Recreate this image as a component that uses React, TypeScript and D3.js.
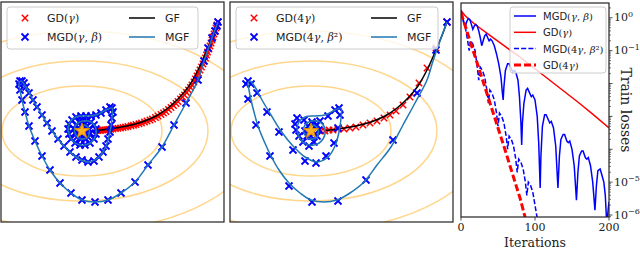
import React from "react";
import * as d3 from "d3";

// ---------- data: optimisation paths (parameter space) ----------
const contourRx = [8.0, 12.6, 17.8];
const contourRy = [4.5, 7.0, 10.0];

const gfPath: [number, number][] = [
  [13.6, 10.9], [13.2, 9.8], [12.5, 8.1], [11.6, 6.1], [10.7, 4.5], [9.7, 3.3],
  [8.6, 2.3], [7.4, 1.5], [6.0, 0.9], [4.5, 0.5], [3.0, 0.25], [1.4, 0.05],
];

const gdPath: [number, number][] = [
  [13.6, 10.9], [13.5, 10.6], [13.4, 10.3], [13.3, 10.0], [13.2, 9.7], [13.1, 9.4],
  [13.0, 9.1], [12.9, 8.8], [12.8, 8.5], [12.7, 8.2], [12.55, 7.9], [12.45, 7.6],
  [12.35, 7.3], [12.2, 7.0], [12.1, 6.7], [11.95, 6.4], [11.8, 6.1], [11.65, 5.8],
  [11.5, 5.5], [11.35, 5.2], [11.2, 4.9], [11.0, 4.6], [10.85, 4.35], [10.65, 4.1],
  [10.45, 3.85], [10.25, 3.6], [10.05, 3.4], [9.85, 3.2], [9.6, 2.95], [9.4, 2.75],
  [9.15, 2.55], [8.9, 2.35], [8.65, 2.15], [8.4, 1.95], [8.15, 1.8], [7.9, 1.65],
  [7.6, 1.5], [7.35, 1.35], [7.05, 1.2], [6.8, 1.1], [6.5, 1.0], [6.25, 0.9],
  [5.95, 0.8], [5.7, 0.72], [5.4, 0.65], [5.15, 0.58], [4.9, 0.52], [4.6, 0.46],
  [4.35, 0.4], [4.1, 0.35], [3.85, 0.3], [3.6, 0.27], [3.35, 0.24], [3.1, 0.2],
  [2.9, 0.18], [2.7, 0.15], [2.5, 0.13], [2.3, 0.11], [2.1, 0.1], [1.9, 0.08],
  [1.75, 0.07], [1.6, 0.06], [1.45, 0.05],
];

const gd4Path: [number, number][] = [
  [13.6, 10.9], [12.5, 8.3], [11.6, 6.3], [10.8, 4.8], [9.9, 3.4], [9.2, 2.6],
  [8.5, 2.0], [7.9, 1.6], [7.3, 1.3], [6.6, 1.0], [5.9, 0.8], [5.2, 0.6],
  [4.5, 0.4], [3.9, 0.3], [3.3, 0.2], [2.7, 0.2], [2.2, 0.1], [1.8, 0.1],
  [1.4, 0.0], [1.0, 0.0],
];

const mgdPath: [number, number][] = [
  [13.6, 10.9], [13.5, 10.5], [13.3, 10.0], [13.0, 9.3], [12.6, 8.3], [12.2, 7.0],
  [11.6, 5.1], [10.4, 2.8], [9.2, 0.6], [8.0, -1.6], [6.6, -3.4], [5.3, -5.1],
  [3.9, -6.2], [2.6, -6.9], [1.3, -7.1], [0.0, -6.9], [-1.1, -6.2], [-2.2, -5.2],
  [-3.2, -3.9], [-4.0, -2.5], [-4.7, -1.0], [-5.3, 0.5], [-5.7, 1.9], [-6.0, 3.1],
  [-6.2, 4.1], [-6.3, 4.7], [-6.2, 5.0], [-6.0, 5.0], [-5.8, 4.8], [-5.6, 4.4],
  [-5.3, 3.8], [-4.9, 3.1], [-4.5, 2.4], [-4.0, 1.6], [-3.5, 0.8], [-3.0, 0.0],
  [-2.4, -0.8], [-1.8, -1.5], [-1.2, -2.1], [-0.6, -2.6], [0.0, -2.9], [0.6, -3.1],
  [1.2, -3.0], [1.7, -2.6], [2.1, -2.1], [2.4, -1.5], [2.6, -0.8], [2.8, -0.1],
  [2.9, 0.6], [3.0, 1.3], [3.1, 1.9], [3.0, 2.3], [2.8, 2.4], [2.4, 2.1],
  [1.9, 1.8], [1.4, 1.6], [0.9, 1.5], [0.4, 1.5], [-0.1, 1.5], [-0.6, 1.4],
  [-1.0, 1.1], [-1.3, 0.7], [-1.4, 0.2], [-1.3, -0.3], [-1.1, -0.8], [-0.7, -1.2],
  [-0.2, -1.4], [0.3, -1.4], [0.8, -1.2], [1.2, -0.8], [1.4, -0.3], [1.4, 0.2],
  [1.2, 0.6], [0.9, 0.9], [0.5, 1.0], [0.1, 1.0], [-0.3, 0.9], [-0.6, 0.6],
  [-0.8, 0.2], [-0.7, -0.2], [-0.5, -0.6], [-0.1, -0.8], [0.3, -0.8], [0.6, -0.6],
  [0.8, -0.2], [0.7, 0.2], [0.5, 0.5], [0.2, 0.6], [-0.1, 0.5], [-0.3, 0.2],
  [-0.3, -0.1], [-0.1, -0.3], [0.2, -0.3], [0.3, -0.1], [0.2, 0.1], [0.0, 0.1],
];

const mgd4Path: [number, number][] = [
  [13.6, 10.9], [12.5, 8.1], [10.6, 3.8], [8.2, -0.9], [5.5, -4.9], [2.7, -7.0],
  [0.1, -7.1], [-2.2, -5.5], [-4.1, -2.5], [-5.5, 0.6], [-6.3, 3.2], [-6.5, 4.7],
  [-6.3, 5.0], [-6.0, 4.7], [-5.4, 3.8], [-4.4, 1.9], [-3.2, -0.1], [-1.8, -1.9],
  [-0.6, -3.0], [0.5, -3.2], [1.5, -2.5], [2.3, -1.2], [2.7, 0.3], [2.9, 1.6],
  [2.8, 2.3], [2.4, 2.1], [1.7, 1.5], [0.9, 1.0], [0.1, 0.9], [-0.7, 1.1],
  [-1.4, 1.3], [-1.6, 0.7], [-1.5, 0.1], [-1.2, -0.5], [-0.8, -1.1], [-0.2, -1.5],
  [0.3, -1.1], [0.6, -0.5], [0.8, 0.1], [0.6, 0.6], [0.2, 0.7], [-0.3, 0.5],
  [-0.6, 0.0], [-0.4, -0.5], [0.0, -0.5], [0.2, -0.1], [0.0, 0.1],
];

const mgfPath: [number, number][] = [
  [13.6, 10.9], [13.0, 9.3], [12.2, 7.0], [11.6, 5.1], [10.4, 2.8], [9.2, 0.6],
  [8.0, -1.6], [6.6, -3.4], [5.3, -5.1], [3.9, -6.2], [2.6, -6.9], [1.3, -7.1],
  [0.0, -6.9], [-1.1, -6.2], [-2.2, -5.2], [-3.2, -3.9], [-4.0, -2.5], [-4.7, -1.0],
  [-5.3, 0.5], [-5.7, 1.9], [-6.0, 3.1], [-6.2, 4.1], [-6.3, 4.8], [-6.1, 5.0],
  [-5.6, 4.4], [-4.9, 3.1], [-4.0, 1.6], [-3.0, 0.0], [-1.8, -1.5], [-0.6, -2.6],
  [0.6, -3.1], [1.7, -2.6], [2.4, -1.5], [2.8, -0.1], [3.0, 1.3], [3.0, 2.3],
  [2.4, 2.1], [1.4, 1.6], [0.4, 1.5], [-0.6, 1.4], [-1.3, 0.7], [-1.3, -0.3],
  [-0.7, -1.2], [0.3, -1.4], [1.2, -0.8], [1.4, 0.2], [0.9, 0.9], [0.1, 1.0],
  [-0.6, 0.6], [-0.7, -0.2], [-0.1, -0.8], [0.6, -0.6], [0.7, 0.2], [0.2, 0.6],
  [-0.3, 0.2], [-0.1, -0.3], [0.2, -0.1], [0.0, 0.0],
];

// ---------- data: train losses (iteration, log10 loss) ----------
const lossMGD: [number, number][] = [
  [0, 0.22], [2, 0.05], [4, -0.15], [6, -0.25], [8, -0.1], [10, -0.02], [12, -0.05],
  [14, -0.2], [16, -0.35], [18, -0.25], [20, -0.2], [22, -0.25], [24, -0.4], [26, -0.6],
  [28, -0.85], [30, -0.7], [32, -0.55], [34, -0.5], [36, -0.6], [38, -0.7], [40, -0.65],
  [42, -0.7], [45, -0.85], [48, -1.1], [51, -1.4], [54, -1.8], [56, -2.3], [57, -2.5],
  [58, -2.1], [60, -1.6], [63, -1.4], [65, -1.4], [68, -1.55], [70, -1.65], [72, -1.6],
  [74, -1.65], [77, -1.9], [79, -2.4], [81, -3.2], [82, -3.87], [83, -3.2], [85, -2.6],
  [88, -2.2], [90, -2.15], [93, -2.3], [95, -2.4], [97, -2.35], [100, -2.5], [103, -3.0],
  [105, -3.8], [107, -5.18], [108, -4.2], [110, -3.3], [113, -2.95], [115, -2.95],
  [118, -3.1], [120, -3.2], [122, -3.15], [125, -3.35], [128, -3.9], [131, -5.18],
  [133, -4.2], [135, -3.7], [138, -3.55], [140, -3.55], [143, -3.75], [145, -3.8],
  [147, -3.75], [150, -4.0], [153, -4.5], [156, -5.55], [158, -4.7], [160, -4.2],
  [163, -4.05], [165, -4.05], [168, -4.25], [170, -4.3], [172, -4.25], [175, -4.5],
  [178, -5.0], [181, -5.85], [183, -5.1], [185, -4.65], [188, -4.6], [190, -4.75],
  [193, -5.0], [195, -5.4], [197, -6.3], [199, -5.8], [200, -5.6],
];
const lossGD: [number, number][] = [
  [0, 0.22], [5, 0.08], [10, -0.03], [20, -0.22], [40, -0.55], [60, -0.88], [80, -1.2],
  [100, -1.55], [120, -1.9], [140, -2.25], [160, -2.6], [180, -2.97], [200, -3.35],
];
const lossMGD4: [number, number][] = [
  [0, 0.15], [3, -0.1], [6, -0.3], [9, -0.7], [11, -1.0], [13, -0.7], [16, -0.8],
  [19, -1.0], [22, -1.5], [24, -1.9], [26, -1.5], [29, -1.6], [32, -1.8], [35, -2.2],
  [37, -2.6], [39, -2.2], [42, -2.3], [45, -2.5], [48, -2.9], [50, -3.3], [52, -2.9],
  [55, -3.0], [58, -3.2], [61, -3.6], [63, -4.0], [65, -3.6], [68, -3.7], [71, -3.9],
  [74, -4.3], [76, -4.7], [78, -4.3], [81, -4.4], [84, -4.6], [87, -5.0], [89, -5.4],
  [91, -5.0], [94, -5.1], [97, -5.3], [100, -5.7], [103, -6.1],
];
const lossGD4: [number, number][] = [
  [0, 0.15], [10, -0.55], [20, -1.25], [30, -1.95], [40, -2.65], [50, -3.35],
  [60, -4.05], [70, -4.78], [80, -5.5], [87, -6.1],
];

const iterTicks = [0, 100, 200];
const lossTickExp = [0, -1, -5, -6];

// ---------- layout ----------
const W = 640, H = 261;
const PY0 = 2, PY1 = 222;
const panels = [
  { x0: 1, x1: 224, gd: gdPath, mgd: mgdPath },
  { x0: 230, x1: 453, gd: gd4Path, mgd: mgd4Path },
];
const L3 = { x0: 461, x1: 609, y0: 3, y1: 217 };

const SANS = "DejaVu Sans, sans-serif";
const SERIF = "DejaVu Serif, serif";

const cross = (s: number) => `M${-s},${-s}L${s},${s}M${-s},${s}L${s},${-s}`;

type Seg = { t: string; f?: "sans" | "serif"; i?: boolean };
const Label = ({ x, y, segs, size = 11 }: { x: number; y: number; segs: Seg[]; size?: number }) => (
  <text x={x} y={y} fontSize={size} fill="#222" dominantBaseline="central">
    {segs.map((s, k) => (
      <tspan key={k} fontFamily={s.f === "serif" ? SERIF : SANS} fontStyle={s.i ? "italic" : "normal"}>
        {s.t}
      </tspan>
    ))}
  </text>
);

const lblGD: Seg[] = [{ t: "GD" }, { t: "(", f: "serif" }, { t: "γ", f: "serif", i: true }, { t: ")", f: "serif" }];
const lblMGD: Seg[] = [{ t: "MGD" }, { t: "(", f: "serif" }, { t: "γ", f: "serif", i: true }, { t: ", ", f: "serif" }, { t: "β", f: "serif", i: true }, { t: ")", f: "serif" }];
const lblGD4: Seg[] = [{ t: "GD" }, { t: "(4", f: "serif" }, { t: "γ", f: "serif", i: true }, { t: ")", f: "serif" }];
const lblMGD4: Seg[] = [{ t: "MGD" }, { t: "(4", f: "serif" }, { t: "γ", f: "serif", i: true }, { t: ", ", f: "serif" }, { t: "β", f: "serif", i: true }, { t: "²", f: "serif" }, { t: ")", f: "serif" }];

const Trajectory = ({ idx }: { idx: number }) => {
  const p = panels[idx];
  const x = d3.scaleLinear().domain([-8.1, 14.2]).range([p.x0, p.x1]);
  const y = d3.scaleLinear().domain([-9.1, 12.9]).range([PY1, PY0]);
  const line = d3.line<[number, number]>().x((d) => x(d[0])).y((d) => y(d[1])).curve(d3.curveCatmullRom);
  const star = d3.symbol(d3.symbolStar, 70)();
  const clip = `clipP${idx}`;
  const lx = p.x0 + 6;
  const legendW = idx === 0 ? 191 : 202;
  const col2 = idx === 0 ? p.x0 + 128 : p.x0 + 141;
  return (
    <g>
      <defs>
        <clipPath id={clip}>
          <rect x={p.x0} y={PY0} width={p.x1 - p.x0} height={PY1 - PY0} />
        </clipPath>
      </defs>
      <rect x={p.x0} y={PY0} width={p.x1 - p.x0} height={PY1 - PY0} fill="#fff" />
      <g clipPath={`url(#${clip})`}>
        {contourRx.map((rx, k) => (
          <ellipse key={k} cx={x(0)} cy={y(0)} rx={x(rx) - x(0)} ry={y(0) - y(contourRy[k])}
            fill="none" stroke="orange" strokeOpacity={0.45} strokeWidth={1.5} />
        ))}
        {p.gd.map((d, k) => (
          <path key={k} d={cross(3.2)} transform={`translate(${x(d[0])},${y(d[1])})`} stroke="red" strokeWidth={1.5} />
        ))}
        <path d={line(gfPath) ?? ""} fill="none" stroke="#000" strokeWidth={1.5} />
        {p.mgd.map((d, k) => (
          <path key={k} d={cross(3.5)} transform={`translate(${x(d[0])},${y(d[1])})`} stroke="blue" strokeWidth={1.8} />
        ))}
        <path d={line(mgfPath) ?? ""} fill="none" stroke="#1f77b4" strokeWidth={1.5} />
        <path d={star ?? ""} transform={`translate(${x(0)},${y(0)})`} fill="#ffb020" stroke="#e08a00" strokeWidth={1} />
        <rect x={lx} y={PY0 + 5} width={legendW} height={42} rx={3} fill="#fff" fillOpacity={0.8} stroke="#ccc" strokeWidth={1} />
        <path d={cross(3.2)} transform={`translate(${lx + 18},${PY0 + 16})`} stroke="red" strokeWidth={1.5} />
        <path d={cross(3.5)} transform={`translate(${lx + 18},${PY0 + 35})`} stroke="blue" strokeWidth={1.8} />
        <Label x={lx + 40} y={PY0 + 16} segs={idx === 0 ? lblGD : lblGD4} />
        <Label x={lx + 40} y={PY0 + 35} segs={idx === 0 ? lblMGD : lblMGD4} />
        <line x1={col2} x2={col2 + 26} y1={PY0 + 16} y2={PY0 + 16} stroke="#000" strokeWidth={1.5} />
        <line x1={col2} x2={col2 + 26} y1={PY0 + 35} y2={PY0 + 35} stroke="#1f77b4" strokeWidth={1.5} />
        <Label x={col2 + 36} y={PY0 + 16} segs={[{ t: "GF" }]} />
        <Label x={col2 + 36} y={PY0 + 35} segs={[{ t: "MGF" }]} />
      </g>
      <rect x={p.x0} y={PY0} width={p.x1 - p.x0} height={PY1 - PY0} fill="none" stroke="#222" strokeWidth={1.2} />
    </g>
  );
};

const Losses = () => {
  const x = d3.scaleLinear().domain([0, 200]).range([L3.x0, L3.x1]);
  const y = d3.scaleLog().domain([Math.pow(10, -6.06), Math.pow(10, 0.45)]).range([L3.y1, L3.y0]);
  const line = d3.line<[number, number]>().x((d) => x(d[0])).y((d) => y(Math.pow(10, d[1])));
  const minor: number[] = [];
  for (let e = -7; e <= 0; e++) for (let m = 2; m <= 9; m++) {
    const v = m * Math.pow(10, e);
    if (v >= y.domain()[0] && v <= y.domain()[1]) minor.push(v);
  }
  const major = d3.range(-6, 1).map((e) => Math.pow(10, e));
  const lx = 510, ly = 7;
  const rows = [
    { segs: lblMGD, stroke: "blue", w: 1.5, dash: "" },
    { segs: lblGD, stroke: "red", w: 1.5, dash: "" },
    { segs: lblMGD4, stroke: "blue", w: 1.5, dash: "5,2.2" },
    { segs: lblGD4, stroke: "red", w: 3, dash: "7,3" },
  ];
  return (
    <g>
      <defs>
        <clipPath id="clipL">
          <rect x={L3.x0} y={L3.y0} width={L3.x1 - L3.x0} height={L3.y1 - L3.y0} />
        </clipPath>
      </defs>
      <g clipPath="url(#clipL)">
        <path d={line(lossGD) ?? ""} fill="none" stroke="red" strokeWidth={1.5} />
        <path d={line(lossMGD) ?? ""} fill="none" stroke="blue" strokeWidth={1.5} />
        <path d={line(lossMGD4) ?? ""} fill="none" stroke="blue" strokeWidth={1.5} strokeDasharray="5,2.2" />
        <path d={line(lossGD4) ?? ""} fill="none" stroke="red" strokeWidth={3} strokeDasharray="7,3" />
        <rect x={lx} y={ly} width={96} height={66} rx={3} fill="#fff" fillOpacity={0.8} stroke="#ccc" />
        {rows.map((r, k) => (
          <g key={k}>
            <line x1={lx + 4} x2={lx + 26} y1={ly + 9 + k * 16.3} y2={ly + 9 + k * 16.3}
              stroke={r.stroke} strokeWidth={r.w} strokeDasharray={r.dash} />
            <Label x={lx + 33} y={ly + 9 + k * 16.3} segs={r.segs} size={10} />
          </g>
        ))}
      </g>
      <rect x={L3.x0} y={L3.y0} width={L3.x1 - L3.x0} height={L3.y1 - L3.y0} fill="none" stroke="#222" strokeWidth={1.2} />
      {minor.map((v, k) => (
        <line key={k} x1={L3.x1} x2={L3.x1 + 2} y1={y(v)} y2={y(v)} stroke="#222" strokeWidth={0.6} />
      ))}
      {major.map((v, k) => (
        <line key={k} x1={L3.x1} x2={L3.x1 + 3.5} y1={y(v)} y2={y(v)} stroke="#222" strokeWidth={0.8} />
      ))}
      {lossTickExp.map((e) => (
        <text key={e} x={L3.x1 + 5} y={y(Math.pow(10, e))} fontFamily={SERIF} fontSize={11} fill="#222" dominantBaseline="central">
          10<tspan dy={-4} fontSize={8}>{e < 0 ? `−${-e}` : `${e}`}</tspan>
        </text>
      ))}
      {iterTicks.map((t) => (
        <g key={t}>
          <line x1={x(t)} x2={x(t)} y1={L3.y1} y2={L3.y1 + 3.5} stroke="#222" strokeWidth={0.8} />
          <text x={x(t)} y={L3.y1 + 10} fontFamily={SERIF} fontSize={11} fill="#222" textAnchor="middle" dominantBaseline="central">{t}</text>
        </g>
      ))}
      <text x={(L3.x0 + L3.x1) / 2} y={L3.y1 + 25} fontFamily={SERIF} fontSize={12.5} fill="#222" textAnchor="middle" dominantBaseline="central">Iterations</text>
      <text transform={`translate(626,${(L3.y0 + L3.y1) / 2}) rotate(90)`} fontFamily={SERIF} fontSize={14} fill="#222" textAnchor="middle" dominantBaseline="central">Train losses</text>
    </g>
  );
};

export default function App() {
  return (
    <svg width={W} height={H} style={{ position: "absolute", left: 0, top: 0, background: "#fff" }}>
      <rect width={W} height={H} fill="#fff" />
      <Trajectory idx={0} />
      <Trajectory idx={1} />
      <Losses />
    </svg>
  );
}
